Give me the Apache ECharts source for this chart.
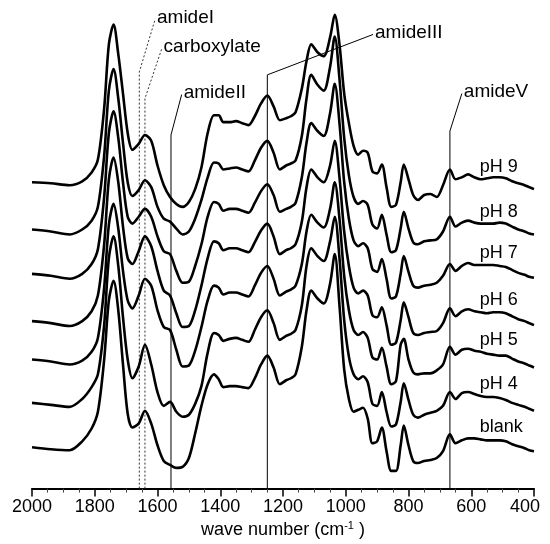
<!DOCTYPE html>
<html>
<head>
<meta charset="utf-8">
<script src="https://cdn.jsdelivr.net/npm/echarts@6/dist/echarts.min.js"></script>
<style>
  html, body { margin: 0; padding: 0; background: #fff; }
  #chart { width: 550px; height: 544px; }
</style>
</head>
<body>
<div id="chart"></div>
<script>
// wave numbers (cm-1) where the spectra were read
const waves = [2000, 1940, 1880, 1840, 1810, 1790, 1770, 1755, 1740, 1725,
  1710, 1695, 1680, 1660, 1640, 1620, 1600, 1580, 1560, 1540,
  1520, 1500, 1480, 1460, 1440, 1420, 1405, 1390, 1370, 1350,
  1330, 1310, 1290, 1270, 1250, 1230, 1210, 1190, 1175, 1160,
  1140, 1125, 1110, 1090, 1070, 1050, 1035, 1020, 1005, 990,
  975, 960, 945, 930, 915, 900, 885, 870, 855, 840,
  825, 815, 800, 785, 770, 750, 730, 710, 690, 668,
  650, 630, 610, 590, 570, 550, 530, 510, 490, 470,
  450, 430, 415, 400];

// stacked absorbance (arbitrary units, offset spectra)
const ph9 = [311, 310, 308, 312, 321, 334, 386, 451, 471, 441,
  401, 361, 344, 350, 359, 353, 328, 308, 296, 289,
  286, 291, 304, 326, 361, 379, 379, 372, 372, 373,
  371, 369, 378, 391, 399, 388, 374, 376, 378, 382,
  406, 434, 451, 443, 439, 458, 481, 451, 401, 371,
  348, 339, 343, 341, 322, 320, 329, 306, 286, 288,
  311, 329, 314, 298, 293, 298, 299, 296, 308, 324,
  314, 316, 319, 316, 314, 315, 316, 316, 315, 312,
  310, 308, 306, 304];
const ph8 = [263, 261, 258, 263, 272, 286, 338, 404, 426, 396,
  351, 311, 297, 303, 313, 306, 286, 274, 271, 264,
  258, 261, 274, 293, 316, 331, 330, 324, 325, 326,
  324, 322, 333, 346, 353, 341, 324, 328, 330, 333,
  358, 396, 420, 410, 404, 428, 459, 416, 356, 318,
  296, 289, 292, 288, 268, 264, 278, 258, 240, 242,
  264, 281, 264, 250, 248, 251, 252, 253, 261, 276,
  266, 270, 272, 270, 269, 269, 269, 270, 269, 266,
  263, 261, 259, 258];
const ph7 = [218, 216, 213, 218, 228, 243, 296, 361, 383, 356,
  311, 276, 269, 276, 284, 276, 256, 241, 238, 221,
  209, 210, 226, 248, 276, 291, 289, 282, 284, 284,
  282, 280, 290, 302, 309, 298, 281, 284, 286, 290,
  316, 351, 371, 363, 358, 381, 411, 371, 311, 274,
  252, 246, 249, 244, 223, 220, 233, 213, 193, 195,
  218, 236, 220, 206, 204, 206, 207, 209, 216, 228,
  221, 226, 229, 227, 227, 227, 227, 226, 225, 222,
  219, 217, 215, 214];
const ph6 = [170, 168, 165, 170, 180, 196, 248, 314, 336, 311,
  266, 234, 228, 241, 256, 246, 221, 201, 196, 178,
  164, 165, 181, 206, 234, 251, 249, 242, 244, 244,
  242, 240, 250, 262, 269, 256, 238, 242, 244, 248,
  271, 306, 324, 316, 311, 328, 353, 316, 261, 226,
  204, 198, 201, 196, 176, 174, 184, 166, 146, 148,
  171, 189, 174, 158, 156, 158, 159, 160, 168, 183,
  175, 180, 182, 180, 179, 178, 179, 179, 178, 175,
  172, 170, 168, 166];
const ph5 = [131, 129, 126, 130, 139, 153, 204, 268, 289, 264,
  221, 191, 183, 196, 213, 206, 181, 164, 161, 141,
  124, 125, 140, 164, 191, 206, 204, 197, 199, 199,
  197, 195, 206, 219, 226, 213, 196, 200, 202, 206,
  228, 261, 278, 270, 265, 284, 311, 274, 216, 181,
  161, 156, 159, 153, 133, 131, 143, 124, 106, 109,
  146, 152, 131, 118, 116, 117, 117, 120, 126, 144,
  136, 141, 142, 140, 139, 137, 136, 135, 135, 132,
  129, 127, 125, 123];
const ph4 = [87, 85, 83, 91, 103, 116, 166, 234, 256, 226,
  174, 131, 112, 124, 146, 126, 98, 84, 88, 78,
  73, 75, 86, 104, 138, 158, 156, 150, 152, 153,
  151, 149, 161, 174, 181, 168, 151, 155, 157, 161,
  186, 226, 244, 236, 231, 251, 276, 234, 171, 134,
  116, 111, 114, 108, 86, 84, 98, 78, 63, 65,
  88, 107, 90, 75, 72, 75, 77, 79, 84, 98,
  91, 97, 98, 96, 94, 93, 93, 92, 90, 87,
  85, 83, 81, 79];
const blank = [42, 40, 39, 48, 61, 78, 131, 191, 211, 181,
  126, 76, 62, 66, 79, 66, 44, 28, 24, 21,
  22, 31, 56, 84, 106, 116, 111, 103, 104, 104,
  103, 102, 112, 126, 135, 123, 106, 110, 112, 116,
  144, 181, 201, 193, 188, 208, 238, 186, 121, 91,
  78, 80, 82, 71, 46, 48, 62, 38, 18, 18,
  44, 64, 44, 28, 26, 28, 29, 31, 38, 55,
  46, 49, 51, 51, 50, 49, 49, 49, 48, 45,
  43, 41, 39, 38];

const traceNames = ['pH 9', 'pH 8', 'pH 7', 'pH 6', 'pH 5', 'pH 4', 'blank'];

// band assignments
const bandNames = ['amideI', 'carboxylate', 'amideII', 'amideIII', 'amideV'];
const bandWaves = [1658, 1640, 1557, 1250, 668];

const xMin = 400;
const xMax = 2000;
const xStep = 200;

const chart = echarts.init(document.getElementById('chart'));
const font = 'Liberation Sans, Arial, Helvetica, sans-serif';

// leader line layout: [knee height, label wave, label height]
const leader = [
  [423, 1608, 476],
  [396, 1587, 446],
  [359, 1523, 400],
  [420, 913, 461],
  [363, 630, 401]
];

const traces = [ph9, ph8, ph7, ph6, ph5, ph4, blank];
const labelIdx = waves.indexOf(570);

const series = traces.map((ys, i) => ({
  name: traceNames[i],
  type: 'line',
  data: waves.map((w, j) => [w, ys[j]]),
  showSymbol: false,
  smooth: 0.3,
  silent: true,
  z: 3,
  lineStyle: { color: '#000', width: 2.6 },
  markPoint: {
    symbol: 'circle',
    symbolSize: 0,
    silent: true,
    data: [{
      coord: [waves[labelIdx], ys[labelIdx]],
      label: {
        show: true,
        position: 'right',
        distance: 0,
        offset: [-1, -12],
        formatter: traceNames[i],
        color: '#000',
        fontSize: 18,
        fontFamily: font
      }
    }]
  }
}));

bandNames.forEach((name, i) => {
  const w = bandWaves[i];
  const dotted = i < 2;
  series.push({
    name: name,
    type: 'line',
    data: [[w, 0], [w, leader[i][0]], [leader[i][1], leader[i][2]]],
    showSymbol: false,
    silent: true,
    z: 2,
    lineStyle: { color: dotted ? '#333' : '#000', width: 1, type: dotted ? [2, 2] : 'solid' },
    markPoint: {
      symbol: 'circle',
      symbolSize: 0,
      silent: true,
      data: [{
        coord: [leader[i][1], leader[i][2]],
        label: {
          show: true,
          position: 'right',
          distance: 2,
          offset: [0, -2],
          formatter: name,
          color: '#000',
          fontSize: 19,
          fontFamily: font
        }
      }]
    }
  });
});

const option = {
  animation: false,
  backgroundColor: '#fff',
  grid: { left: 32, right: 16, top: 0, bottom: 48 },
  xAxis: {
    type: 'value',
    inverse: true,
    min: xMin,
    max: xMax,
    interval: xStep,
    name: 'wave number (cm{sup|-1} )',
    nameLocation: 'middle',
    nameGap: 25,
    nameTextStyle: {
      color: '#000',
      fontSize: 18,
      fontFamily: font,
      rich: { sup: { fontSize: 11, verticalAlign: 'top', padding: [0, 0, 8, 0], fontFamily: font, color: '#000' } }
    },
    splitLine: { show: false },
    axisLine: { lineStyle: { color: '#000', width: 2 } },
    axisTick: { length: 8, lineStyle: { color: '#000', width: 1.5 } },
    minorTick: { show: true, splitNumber: 4, length: 4, lineStyle: { color: '#444', width: 1 } },
    axisLabel: {
      color: '#000',
      fontSize: 18,
      fontFamily: font,
      margin: 9,
      formatter: v => (v === xMin ? '{last|' + v + '}' : String(v)),
      rich: { last: { fontSize: 18, fontFamily: font, color: '#000', padding: [0, 18, 0, 0] } }
    }
  },
  yAxis: { type: 'value', min: 0, max: 496, show: false },
  series: series
};

chart.setOption(option);
</script>
</body>
</html>
